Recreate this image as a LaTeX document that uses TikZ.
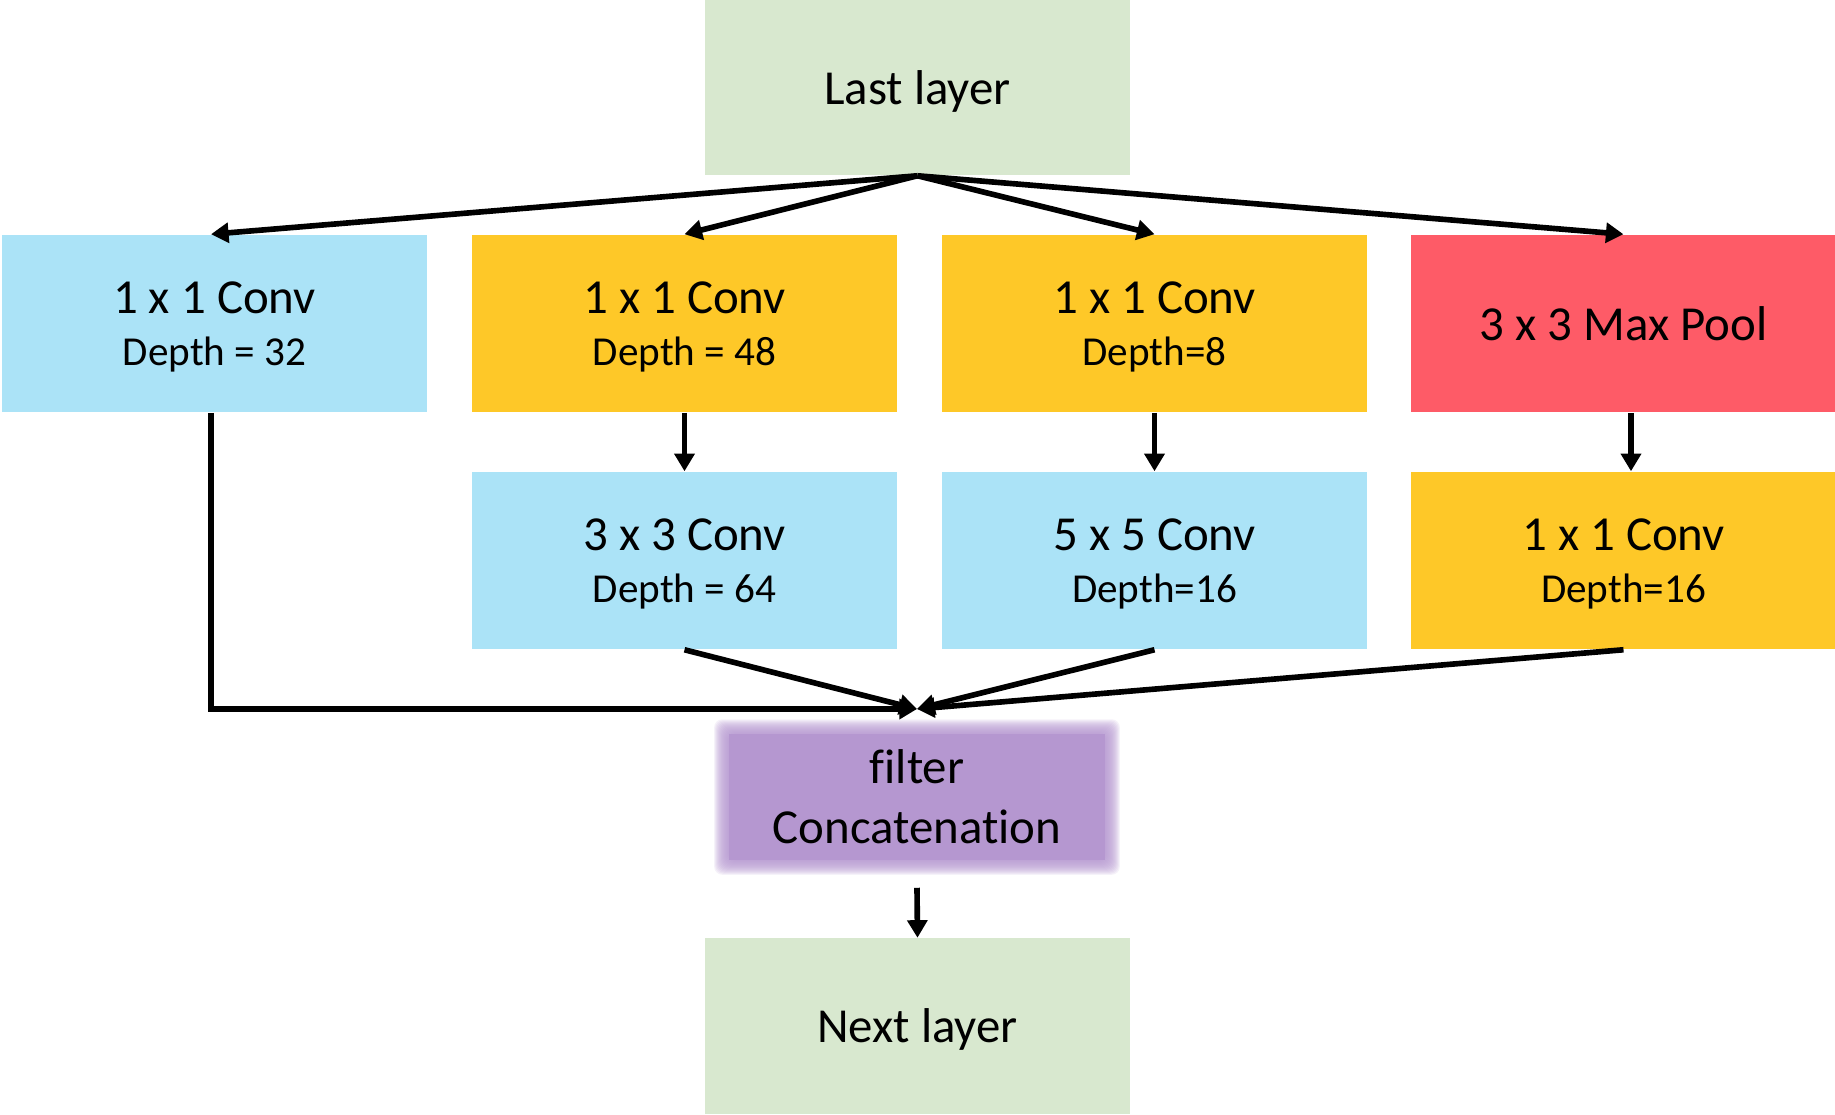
\documentclass[tikz,border=0pt]{standalone}
\usepackage{fontspec}
\setmainfont{Carlito}[Ligatures={NoCommon}]
\usetikzlibrary{arrows.meta, backgrounds}
\definecolor{layerColor}{RGB}{216,232,207}
\definecolor{convBlue}{RGB}{171,227,247}
\definecolor{convYellow}{RGB}{254,200,40}
\definecolor{poolRed}{RGB}{254,91,103}
\definecolor{concatPurple}{RGB}{181,151,208}
\newcommand{\titleFont}{\fontsize{13.9}{14.8}\selectfont}
\newcommand{\depthFont}{\fontsize{11.7}{14.8}\selectfont}
\tikzstyle{inception} = [x = 0.01cm, y = -0.01cm]
\tikzstyle{layerBox} = [fill=layerColor, minimum width=4.25cm, minimum height=1.75cm, inner sep=0pt, text depth=0pt, font=\titleFont]
\tikzstyle{convBox} = [minimum width=4.25cm, minimum height=1.77cm, inner sep=0pt, align=center, text depth=0pt, font=\titleFont]
\tikzstyle{concatBox} = [minimum width=3.92cm, minimum height=1.42cm, inner sep=0pt, align=center, font=\titleFont]
\tikzstyle{flowLine} = [line width=1.6pt]
\tikzstyle{flowArrow} = [flowLine, -{Triangle[length=5pt, width=5.6pt]}]
\tikzstyle{glowStyle} = [fill=concatPurple, opacity=0.13, rounded corners=0.08cm]
\newcommand{\convBox}[6]{\node [convBox, fill=#4] (#1) at (#2, #3) {#5\\{\depthFont #6}};}
\newcommand{\glowLayer}[1]{\fill [glowStyle] ([shift={(-#1, #1)}]concat.south west) rectangle ([shift={(#1, -#1)}]concat.north east);}

\begin{document}
\begin{tikzpicture}[inception]
  \useasboundingbox (0, 0) rectangle (1835, 1114);
  \node [layerBox] (last) at (917.5, 87.5) {Last layer};

  % first row
  \convBox{oneA}{214.5}{323.5}{convBlue}{1 x 1 Conv}{Depth = 32}
  \convBox{oneB}{684.5}{323.5}{convYellow}{1 x 1 Conv}{Depth = 48}
  \convBox{oneC}{1154.5}{323.5}{convYellow}{1 x 1 Conv}{Depth=8}
  \node [convBox, fill=poolRed] (pool) at (1623.5, 323.5) {3 x 3 Max Pool};

  % second row
  \convBox{threeConv}{684.5}{560.5}{convBlue}{3 x 3 Conv}{Depth = 64}
  \convBox{fiveConv}{1154.5}{560.5}{convBlue}{5 x 5 Conv}{Depth=16}
  \convBox{oneD}{1623.5}{560.5}{convYellow}{1 x 1 Conv}{Depth=16}

  \node [concatBox] (concat) at (917, 797) {filter\\[2.2pt]Concatenation};
  \begin{scope}[on background layer]
    \fill [concatPurple] ([shift={(9, -9)}]concat.south west) rectangle ([shift={(-9, 9)}]concat.north east);
    \foreach \g in {-8,...,6} {\glowLayer{\g}}
  \end{scope}
  \node [layerBox] (next) at (917.5, 1026) {Next layer};
  \coordinate (merge) at (917, 709);

  \foreach \target in {oneB, oneC, pool}
    \draw [flowArrow] (last.south) -- (\target.north);
  \draw [flowArrow] (last.south) -- ([xshift=-0.035cm]oneA.north);
  \draw [flowArrow] (oneB.south) -- (threeConv.north);
  \draw [flowArrow] (oneC.south) -- (fiveConv.north);
  \draw [flowArrow] ([xshift=0.075cm]pool.south) -- ([xshift=0.075cm]oneD.north);

  \draw [flowArrow] ([xshift=-0.035cm]oneA.south) |- (merge);
  \foreach \source in {threeConv, fiveConv, oneD}
    \draw [flowArrow] (\source.south) -- (merge);
  \draw [flowArrow] ([yshift=-0.19cm]concat.south) -- (next.north);
\end{tikzpicture}
\end{document}
